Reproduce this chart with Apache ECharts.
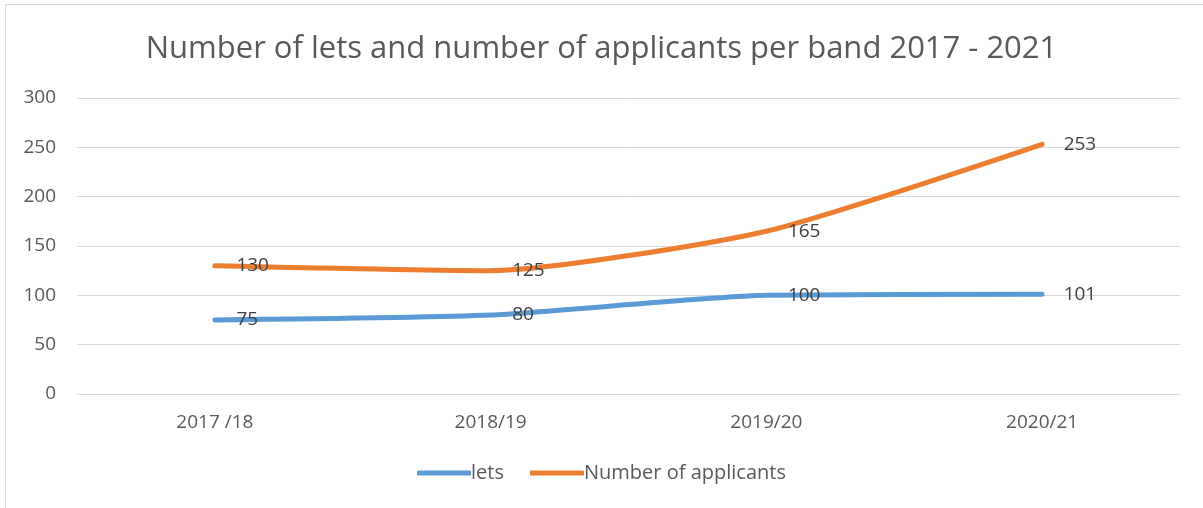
<!DOCTYPE html>
<html><head><meta charset="utf-8">
<script src="https://cdn.jsdelivr.net/npm/echarts@6/dist/echarts.min.js"></script>
<style>
html,body{margin:0;padding:0;background:#fff;overflow:hidden;}
#frame{position:absolute;left:5px;top:4px;width:1400px;height:700px;border:1px solid #d9d9d9;box-sizing:border-box;}
#chart{position:absolute;left:0;top:0;width:1203px;height:508px;}
</style></head>
<body>
<div id="frame"></div>
<div id="chart"></div>
<script>
const categories = ['2017 /18', '2018/19', '2019/20', '2020/21'];
const lets = [75, 80, 100, 101];
const applicants = [130, 125, 165, 253];
const yTicks = { min: 0, max: 300, interval: 50 };
const titleText = 'Number of lets and number of applicants per band 2017 - 2021';

const font = 'Open Sans, Noto Sans, sans-serif';
const chart = echarts.init(document.getElementById('chart'), null, {renderer:'canvas'});
const labelCfg = { show: true, position: 'right', distance: 21, color: '#404040', fontSize: 19, fontFamily: font };
chart.setOption({
  animation: false,
  title: { text: titleText, left: 'center', top: 29, textStyle: { color: '#595959', fontSize: 31, fontWeight: 'normal', fontFamily: font } },
  grid: { left: 77, right: 23, top: 98, bottom: 114, containLabel: false },
  legend: {
    bottom: 20, left: 'center', itemWidth: 54, itemHeight: 5, itemGap: 26,
    icon: 'roundRect',
    textStyle: { color: '#595959', fontSize: 20, fontFamily: font, padding: [0,0,0,-5] },
    data: ['lets', 'Number of applicants']
  },
  xAxis: {
    type: 'category', data: categories, boundaryGap: true,
    axisLine: { show: true, lineStyle: { color: '#d9d9d9' } },
    axisTick: { show: false },
    axisLabel: { color: '#595959', fontSize: 19, fontFamily: font, margin: 19 }
  },
  yAxis: {
    type: 'value', min: yTicks.min, max: yTicks.max, interval: yTicks.interval,
    axisLine: { show: false }, axisTick: { show: false },
    splitLine: { lineStyle: { color: '#d9d9d9', width: 1 } },
    axisLabel: { color: '#595959', fontSize: 19, fontFamily: font, margin: 21 }
  },
  series: [
    { name: 'lets', type: 'line', data: lets, smooth: 0.2, symbol: 'circle', symbolSize: 1,
      itemStyle: { color: '#5B9BD5' }, lineStyle: { color: '#5B9BD5', width: 5, cap: 'round' }, label: labelCfg },
    { name: 'Number of applicants', type: 'line', data: applicants, smooth: 0.2, symbol: 'circle', symbolSize: 1,
      itemStyle: { color: '#ED7D31' }, lineStyle: { color: '#ED7D31', width: 5, cap: 'round' }, label: labelCfg }
  ]
});
</script>
</body></html>
